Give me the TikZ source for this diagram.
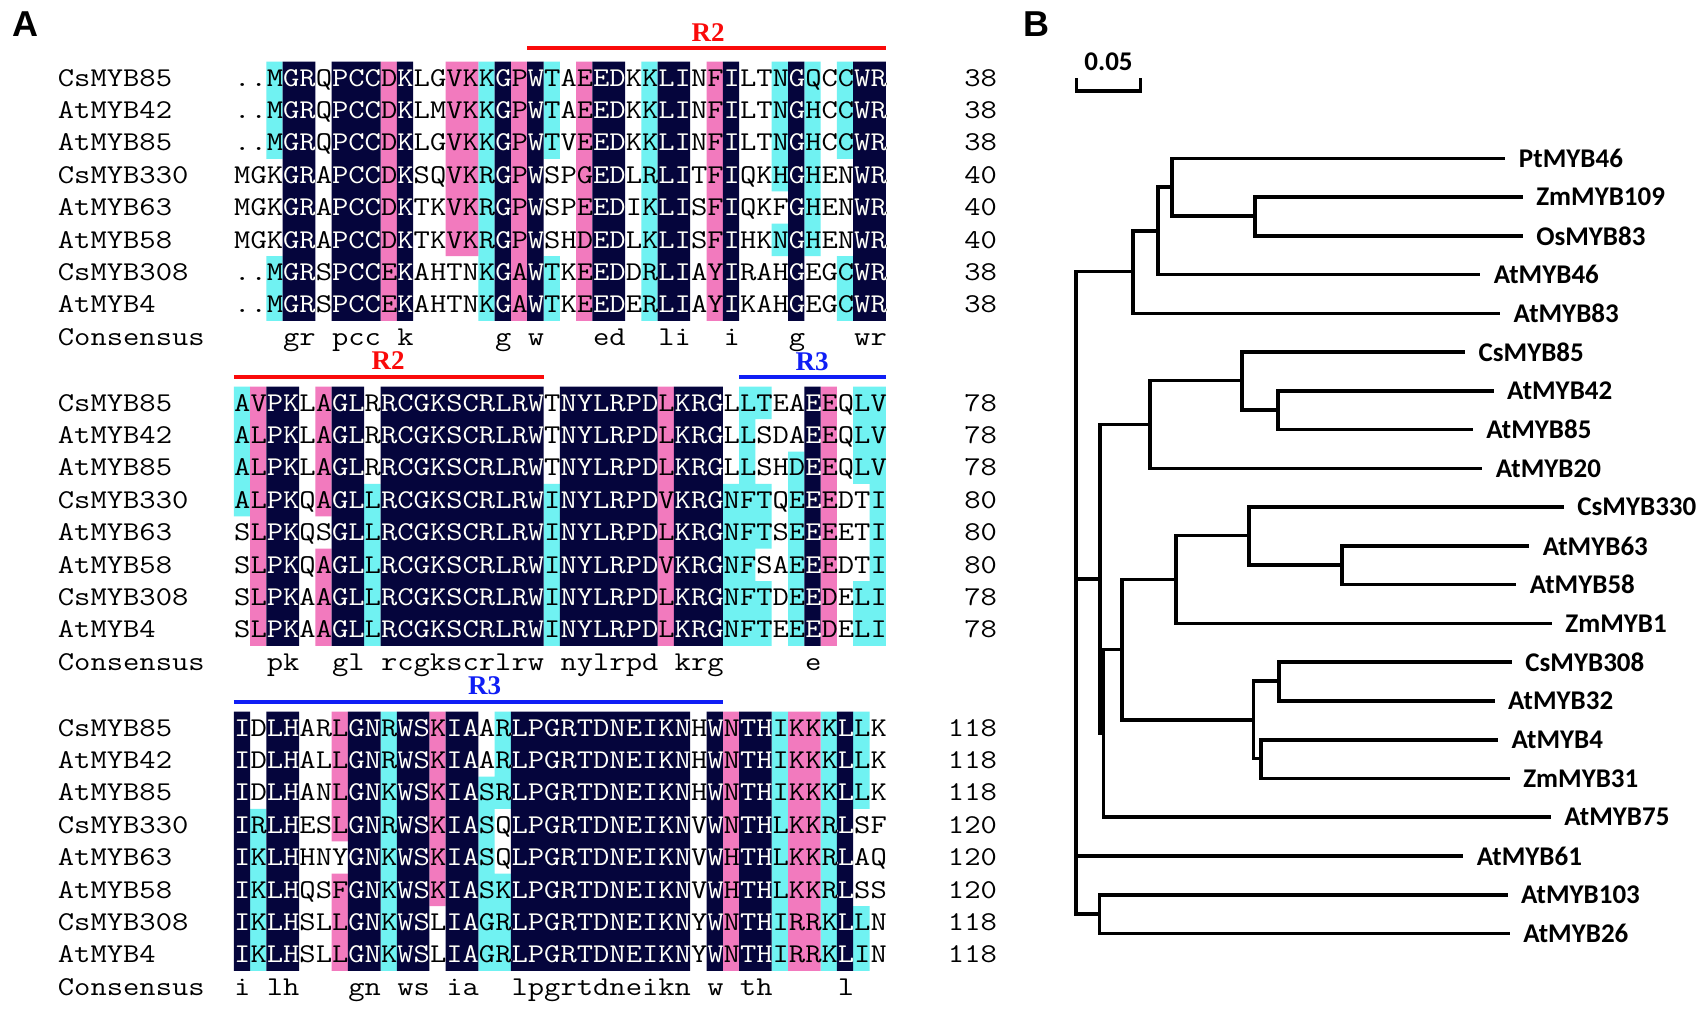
\documentclass[tikz,border=0pt]{standalone}
\usepackage{fontspec}
\setmainfont{Liberation Sans}
\newfontfamily\alnfont[FakeStretch=1.1665]{Latin Modern Mono}
\newfontfamily\treefont{Carlito}
\newfontfamily\domfont{Liberation Serif}
\usepackage{xcolor}
\definecolor{alnblk}{RGB}{5,5,60}
\definecolor{alnpink}{RGB}{242,122,190}
\definecolor{alncyan}{RGB}{112,242,242}
\definecolor{rtwo}{RGB}{250,10,10}
\definecolor{rthree}{RGB}{15,30,245}
\newcommand\alnx{233.8}
\newcommand\alnw{16.3}
\newcommand\alnh{32.4}
\tikzset{
  seqtxt/.style={anchor=base west,inner sep=0pt,font=\alnfont\fontsize{13.58}{15}\selectfont},
  numtxt/.style={anchor=base east,inner sep=0pt,font=\alnfont\fontsize{13.58}{15}\selectfont},
  leaf/.style={anchor=west,inner sep=0pt,font=\treefont\bfseries\fontsize{13.5}{15}\selectfont},
  domlbl/.style={inner sep=0pt,font=\domfont\bfseries\fontsize{13.5}{15}\selectfont},
  panel/.style={inner sep=0pt,font=\bfseries\fontsize{18}{20}\selectfont},
  branch/.style={line width=1.8pt,line cap=rect},
  dombar/.style={line width=2pt}
}
% #1 top, #2 rows, #3 cyan, #4 pink, #5 black, #6 numbers, #7 consensus, #8 prefix
\newcommand{\alnblock}[8]{%
  \begin{scope}[shift={(0,#1)}]
    \fill[alncyan] \foreach \ca/\cb/\ra/\rb in {#3}
      {({\alnx+\ca*\alnw},{\ra*\alnh}) rectangle ({\alnx+(\cb+1)*\alnw},{(\rb+1)*\alnh})};
    \fill[alnpink] \foreach \ca/\cb/\ra/\rb in {#4}
      {({\alnx+\ca*\alnw},{\ra*\alnh}) rectangle ({\alnx+(\cb+1)*\alnw},{(\rb+1)*\alnh})};
    \fill[alnblk] \foreach \ca/\cb/\ra/\rb in {#5}
      {({\alnx+\ca*\alnw},{\ra*\alnh}) rectangle ({\alnx+(\cb+1)*\alnw},{(\rb+1)*\alnh})};
    \foreach \sq [count=\rw from 0] in {#2}
      \node[seqtxt] (#8s\rw) at ({\alnx},{\rw*\alnh+24.3}) {\sq};
    \begin{scope}
      \clip \foreach \ca/\cb/\ra/\rb in {#5}
        {({\alnx+\ca*\alnw},{\ra*\alnh}) rectangle ({\alnx+(\cb+1)*\alnw},{(\rb+1)*\alnh})};
      \foreach \sq [count=\rw from 0] in {#2}
        \node[seqtxt,text=white] (#8w\rw) at ({\alnx},{\rw*\alnh+24.3}) {\sq};
    \end{scope}
    \foreach \nm [count=\rw from 0] in {CsMYB85,AtMYB42,AtMYB85,CsMYB330,AtMYB63,AtMYB58,CsMYB308,AtMYB4}
      \node[seqtxt] (#8n\rw) at (57.5,{\rw*\alnh+24.3}) {\nm};
    \foreach \nb [count=\rw from 0] in {#6}
      \node[numtxt] (#8e\rw) at (997.3,{\rw*\alnh+24.3}) {\nb};
    \node[seqtxt] (#8cl) at (57.5,{8*\alnh+24.3}) {Consensus};
    \node[seqtxt] (#8cs) at ({\alnx},{8*\alnh+24.3}) {#7};
  \end{scope}}

\begin{document}
\begin{tikzpicture}[x=0.5pt,y=-0.5pt]
\useasboundingbox (0,0) rectangle (1700,1009);
\fill[white] (0,0) rectangle (1700,1009);

\node[panel] (pa) at (25.5,24) {A};
\node[panel] (pb) at (1036,24) {B};

% domain bars
\coordinate (d1a) at ({\alnx+18*\alnw},47.7);
\coordinate (d1b) at ({\alnx+40*\alnw},47.7);
\draw[rtwo,dombar] (d1a) -- (d1b);
\node[domlbl,text=rtwo] (d1t) at (708,32.5) {R2};
\coordinate (d2a) at ({\alnx},377);
\coordinate (d2b) at ({\alnx+19*\alnw},377);
\draw[rtwo,dombar] (d2a) -- (d2b);
\node[domlbl,text=rtwo] (d2t) at (388,361) {R2};
\coordinate (d3a) at ({\alnx+31*\alnw},377);
\coordinate (d3b) at ({\alnx+40*\alnw},377);
\draw[rthree,dombar] (d3a) -- (d3b);
\node[domlbl,text=rthree] (d3t) at (812,361.5) {R3};
\coordinate (d4a) at ({\alnx},701.7);
\coordinate (d4b) at ({\alnx+30*\alnw},701.7);
\draw[rthree,dombar] (d4a) -- (d4b);
\node[domlbl,text=rthree] (d4t) at (484.6,686) {R3};

% alignment
\alnblock{61.7}
  {..MGRQPCCDKLGVKKGPWTAEEDKKLINFILTNGQCCWR,..MGRQPCCDKLMVKKGPWTAEEDKKLINFILTNGHCCWR,
   ..MGRQPCCDKLGVKKGPWTVEEDKKLINFILTNGHCCWR,MGKGRAPCCDKSQVKRGPWSPGEDLRLITFIQKHGHENWR,
   MGKGRAPCCDKTKVKRGPWSPEEDIKLISFIQKFGHENWR,MGKGRAPCCDKTKVKRGPWSHDEDLKLISFIHKNGHENWR,
   ..MGRSPCCEKAHTNKGAWTKEEDDRLIAYIRAHGEGCWR,..MGRSPCCEKAHTNKGAWTKEEDERLIAYIKAHGEGCWR}
  {2/2/0/2,2/2/6/7,15/15/0/7,19/19/0/2,19/19/6/7,25/25/0/7,33/33/0/3,33/33/5/5,35/35/0/5,37/37/0/2,37/37/6/7}
  {9/9/0/7,13/14/0/5,17/17/0/7,21/21/0/7,29/29/0/7}
  {3/4/0/7,6/8/0/7,10/10/0/7,16/16/0/7,18/18/0/7,22/23/0/7,26/27/0/7,30/30/0/7,34/34/0/7,38/39/0/7}
  {38,38,38,40,40,40,38,38}
  {~~~gr~pcc~k~~~~~g~w~~~ed~~li~~i~~~g~~~wr}{ka}
\alnblock{386.7}
  {AVPKLAGLRRCGKSCRLRWTNYLRPDLKRGLLTEAEEQLV,ALPKLAGLRRCGKSCRLRWTNYLRPDLKRGLLSDAEEQLV,
   ALPKLAGLRRCGKSCRLRWTNYLRPDLKRGLLSHDEEQLV,ALPKQAGLLRCGKSCRLRWINYLRPDVKRGNFTQEEEDTI,
   SLPKQSGLLRCGKSCRLRWINYLRPDLKRGNFTSEEEETI,SLPKQAGLLRCGKSCRLRWINYLRPDVKRGNFSAEEEDTI,
   SLPKAAGLLRCGKSCRLRWINYLRPDLKRGNFTDEEDELI,SLPKAAGLLRCGKSCRLRWINYLRPDLKRGNFTEEEDELI}
  {0/0/0/3,8/8/3/7,19/19/3/7,30/30/3/7,31/31/0/7,32/32/0/0,32/32/3/4,32/32/6/7,34/34/2/7,38/38/0/2,38/38/6/7,39/39/0/7}
  {1/1/0/7,5/5/0/3,5/5/5/7,26/26/0/7,36/36/0/7}
  {2/3/0/7,6/7/0/7,9/18/0/7,20/25/0/7,27/29/0/7,35/35/0/7}
  {78,78,78,80,80,80,78,78}
  {~~pk~~gl~rcgkscrlrw~nylrpd~krg~~~~~e}{kb}
\alnblock{711.7}
  {IDLHARLGNRWSKIAARLPGRTDNEIKNHWNTHIKKKLLK,IDLHALLGNRWSKIAARLPGRTDNEIKNHWNTHIKKKLLK,
   IDLHANLGNKWSKIASRLPGRTDNEIKNHWNTHIKKKLLK,IRLHESLGNRWSKIASQLPGRTDNEIKNVWNTHLKKRLSF,
   IKLHHNYGNKWSKIASQLPGRTDNEIKNVWHTHLKKRLAQ,IKLHQSFGNKWSKIASKLPGRTDNEIKNVWHTHLKKRLSS,
   IKLHSLLGNKWSLIAGRLPGRTDNEIKNYWNTHIRRKLLN,IKLHSLLGNKWSLIAGRLPGRTDNEIKNYWNTHIRRKLIN}
  {1/1/3/7,9/9/0/7,15/15/2/7,16/16/0/2,16/16/5/7,33/33/0/7,36/36/0/7,38/38/0/2,38/38/6/7}
  {6/6/0/3,6/6/5/7,12/12/0/5,30/30/0/7,34/35/0/7}
  {0/0/0/7,2/3/0/7,7/8/0/7,10/11/0/7,13/14/0/7,17/27/0/7,29/29/0/7,31/32/0/7,37/37/0/7}
  {118,118,118,120,120,120,118,118}
  {i~lh~~~gn~ws~ia~~lpgrtdneikn~w~th~~~~l}{kc}

% tree
\coordinate (sba) at (1076.4,78);
\coordinate (sbc) at (1076.4,91);
\coordinate (sbd) at (1140.6,91);
\coordinate (sbb) at (1140.6,78);
\draw[line width=1.6pt] (sba) -- (sbc) -- (sbd) -- (sbb);
\node[leaf,anchor=center] (sbt) at (1108.5,62) {0.05};

\foreach \tx/\lb [count=\i from 0] in {1503.5/PtMYB46,1520.9/ZmMYB109,1520.9/OsMYB83,
    1478.4/AtMYB46,1498.3/AtMYB83,1463.2/CsMYB85,1491.8/AtMYB42,1471/AtMYB85,1480.5/AtMYB20,
    1562/CsMYB330,1527.4/AtMYB63,1514.4/AtMYB58,1550/ZmMYB1,1510/CsMYB308,1492.7/AtMYB32,
    1496.2/AtMYB4,1507.9/ZmMYB31,1549/AtMYB75,1461.5/AtMYB61,1505.7/AtMYB103,1507.9/AtMYB26}{
  \coordinate (t\i) at (\tx,{158.3+\i*38.76});
  \node[leaf] (l\i) at ({\tx+15},{158.3+\i*38.76}) {\lb};
}
\coordinate (root) at (1076,578.8);
\coordinate (nA) at (1132.7,271.4);
\coordinate (nA1) at (1158,230.7);
\coordinate (nA1a) at (1171.8,187.0);
\coordinate (nA1b) at (1255,215.75);
\coordinate (nB) at (1100.2,578.8);
\coordinate (nB1) at (1150.1,424.5);
\coordinate (nB1a) at (1242,380.6);
\coordinate (nB1b) at (1278,409.8);
\coordinate (nB2) at (1103.3,733);
\coordinate (nC) at (1121.9,649.6);
\coordinate (nC1) at (1176.1,579.5);
\coordinate (nC1a) at (1249,535.6);
\coordinate (nC1b) at (1341.8,564.9);
\coordinate (nC2) at (1253.3,719.7);
\coordinate (nC2a) at (1278.9,680.9);
\coordinate (nC2b) at (1260.7,758.4);
\coordinate (nD) at (1099.4,914);
\foreach \pa/\ch in {root/nA,root/nB,root/t18,root/nD,nA/nA1,nA/t4,nA1/nA1a,nA1/t3,
    nA1a/t0,nA1a/nA1b,nA1b/t1,nA1b/t2,nB/nB1,nB/nB2,nB1/nB1a,nB1/t8,nB1a/t5,nB1a/nB1b,
    nB1b/t6,nB1b/t7,nB2/nC,nB2/t17,nC/nC1,nC/nC2,nC1/nC1a,nC1/t12,nC1a/t9,nC1a/nC1b,
    nC1b/t10,nC1b/t11,nC2/nC2a,nC2/nC2b,nC2a/t13,nC2a/t14,nC2b/t15,nC2b/t16,nD/t19,nD/t20}
  \draw[branch] (\pa) |- (\ch);
\end{tikzpicture}
\end{document}
